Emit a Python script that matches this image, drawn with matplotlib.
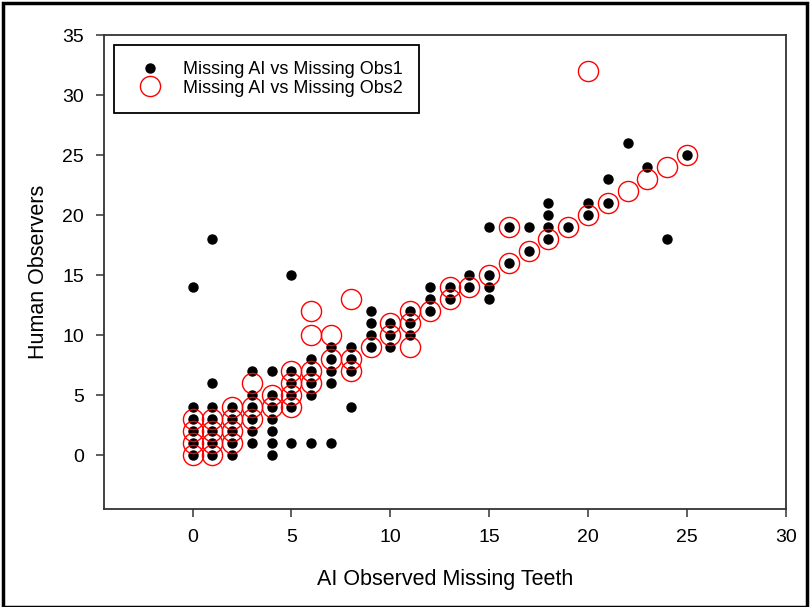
import matplotlib.pyplot as plt
from matplotlib.patches import Rectangle

# AI observed missing teeth vs human observer 1 (black dots)
obs1_x = [0, 0, 0, 0, 0, 0,
          1, 1, 1, 1, 1, 1, 1,
          2, 2, 2, 2, 2,
          3, 3, 3, 3, 3, 3,
          4, 4, 4, 4, 4, 4, 4,
          5, 5, 5, 5, 5, 5,
          6, 6, 6, 6, 6,
          7, 7, 7, 7, 7,
          8, 8, 8, 8,
          9, 9, 9, 9,
          10, 10, 10,
          11, 11, 11,
          12, 12, 12,
          13, 13,
          14, 14,
          15, 15, 15, 15,
          16, 16,
          17, 17,
          18, 18, 18, 18,
          19,
          20, 20,
          21, 21,
          22, 23, 24, 25]
obs1_y = [0, 1, 2, 3, 4, 14,
          0, 1, 2, 3, 4, 6, 18,
          0, 1, 2, 3, 4,
          1, 2, 3, 4, 5, 7,
          0, 1, 2, 3, 4, 5, 7,
          1, 4, 5, 6, 7, 15,
          1, 5, 6, 7, 8,
          1, 6, 7, 8, 9,
          4, 7, 8, 9,
          9, 10, 11, 12,
          9, 10, 11,
          10, 11, 12,
          12, 13, 14,
          13, 14,
          14, 15,
          13, 14, 15, 19,
          16, 19,
          17, 19,
          18, 19, 20, 21,
          19,
          20, 21,
          21, 23,
          26, 24, 18, 25]

# AI observed missing teeth vs human observer 2 (red circles)
obs2_x = [0, 0, 0, 0,
          1, 1, 1, 1,
          2, 2, 2, 2,
          3, 3, 3,
          4, 4,
          5, 5, 5, 5,
          6, 6, 6, 6,
          7, 7,
          8, 8, 8,
          9,
          10, 10,
          11, 11, 11,
          12,
          13, 13,
          14, 15,
          16, 16,
          17, 18, 19,
          20, 20,
          21, 22, 23, 24, 25]
obs2_y = [0, 1, 2, 3,
          0, 1, 2, 3,
          1, 2, 3, 4,
          3, 4, 6,
          4, 5,
          4, 5, 6, 7,
          6, 7, 10, 12,
          8, 10,
          7, 8, 13,
          9,
          10, 11,
          9, 11, 12,
          12,
          13, 14,
          14, 15,
          16, 19,
          17, 18, 19,
          20, 32,
          21, 22, 23, 24, 25]

x_ticks = [0, 5, 10, 15, 20, 25, 30]
y_ticks = [0, 5, 10, 15, 20, 25, 30, 35]

fig = plt.figure(figsize=(8.1, 6.07), dpi=100)
ax = fig.add_axes([0.128, 0.161, 0.842, 0.781])

ax.plot(obs1_x, obs1_y, 'o', color='black', markersize=6.5, linestyle='none',
        label='Missing AI vs Missing Obs1')
ax.plot(obs2_x, obs2_y, 'o', markerfacecolor='none', markeredgecolor='red',
        markeredgewidth=1.0, markersize=14.5, linestyle='none',
        label='Missing AI vs Missing Obs2')

ax.set_xlim(-4.5, 30)
ax.set_ylim(-4.5, 35)
ax.set_xticks(x_ticks)
ax.set_yticks(y_ticks)

for lab in ax.get_xticklabels() + ax.get_yticklabels():
    lab.set_family('Liberation Sans')
    lab.set_fontsize(14)
ax.tick_params(direction='out', length=6, width=1.1, color='#333333', pad=8,
               top=False, right=False)

for sp in ax.spines.values():
    sp.set_color('#333333')
    sp.set_linewidth(1.3)

ax.set_xlabel('AI Observed Missing Teeth', fontsize=15.5, family='Liberation Sans', labelpad=17)
ax.set_ylabel('Human Observers', fontsize=15.5, family='Liberation Sans', labelpad=10)

leg = ax.legend(loc='upper left', bbox_to_anchor=(0.015, 0.98), fancybox=False,
                edgecolor='black', framealpha=1, prop={'family': 'Liberation Sans', 'size': 13},
                handletextpad=0.7, labelspacing=0.1, borderpad=0.9, handlelength=2.2,
                borderaxespad=0)
leg.get_frame().set_linewidth(1.3)

# border around the whole picture
fig.patches.append(Rectangle((0.004, 0.0), 0.992, 0.995, transform=fig.transFigure,
                             fill=False, edgecolor='black', linewidth=2.5))

fig.savefig('out.png', dpi=100)
